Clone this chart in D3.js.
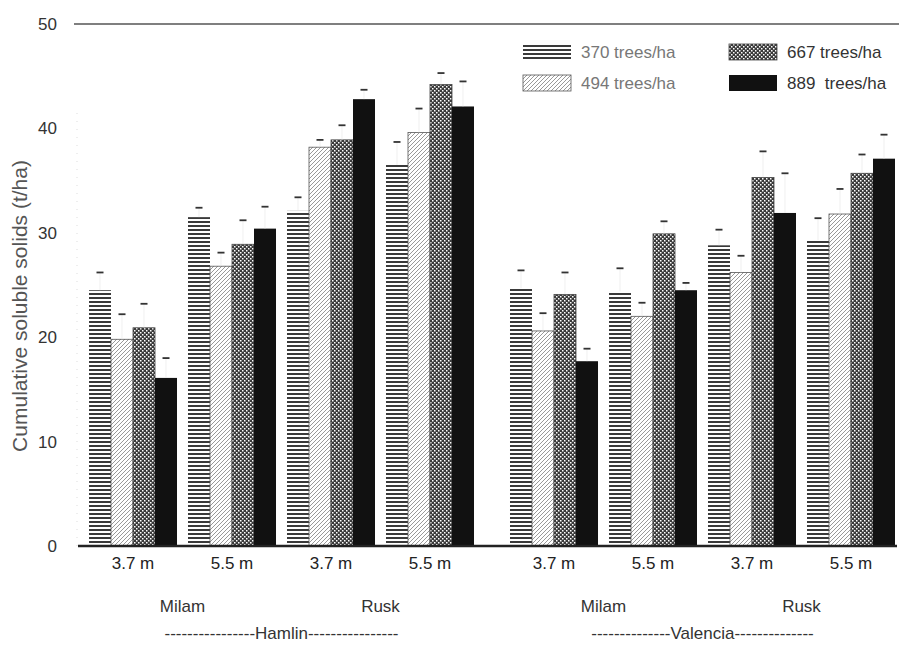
<!DOCTYPE html>
<html>
<head>
<meta charset="utf-8">
<script src="https://cdn.jsdelivr.net/npm/d3@7"></script>
<style>
  body { margin: 0; background: #fff; }
  svg { display: block; font-family: "Liberation Sans", Arial, sans-serif; }
</style>
</head>
<body>
<svg id="chart" width="899" height="645"></svg>
<script>
// categories
var cultivars = ["Hamlin", "Valencia"];
var combos = ["Milam 3.7 m", "Milam 5.5 m", "Rusk 3.7 m", "Rusk 5.5 m"];
var spacingLabels = ["3.7 m", "5.5 m", "3.7 m", "5.5 m"];
var siteLabels = ["Milam", "Rusk"];
var densities = ["370 trees/ha", "494 trees/ha", "667 trees/ha", "889  trees/ha"];
var yTicks = [0, 10, 20, 30, 40, 50];

// bar heights, order: Hamlin (Milam 3.7, Milam 5.5, Rusk 3.7, Rusk 5.5), Valencia (same)
var d370 = [24.5, 31.5, 32.1, 36.5, 24.7, 24.4, 28.8, 29.3];
var d494 = [19.8, 26.8, 38.2, 39.6, 20.6, 22.0, 26.2, 31.8];
var d667 = [20.9, 28.9, 38.9, 44.2, 24.1, 29.9, 35.3, 35.7];
var d889 = [16.1, 30.4, 42.8, 42.1, 17.7, 24.5, 31.9, 37.1];
// top of error bars
var e370 = [26.2, 32.4, 33.4, 38.7, 26.4, 26.6, 30.3, 31.4];
var e494 = [22.2, 28.1, 38.9, 41.9, 22.3, 23.3, 27.8, 34.2];
var e667 = [23.2, 31.2, 40.3, 45.3, 26.2, 31.1, 37.8, 37.5];
var e889 = [18.0, 32.5, 43.7, 44.5, 18.9, 25.2, 35.7, 39.4];

var series = [d370, d494, d667, d889];
var errs = [e370, e494, e667, e889];

var svg = d3.select("#chart");

// patterns
var defs = svg.append("defs");
var p1 = defs.append("pattern").attr("id", "p370").attr("patternUnits", "userSpaceOnUse")
  .attr("width", 6).attr("height", 4);
p1.append("rect").attr("width", 6).attr("height", 4).attr("fill", "#fff");
p1.append("rect").attr("y", 1).attr("width", 6).attr("height", 2).attr("fill", "#3a3a3a");

var p2 = defs.append("pattern").attr("id", "p494").attr("patternUnits", "userSpaceOnUse")
  .attr("width", 4).attr("height", 4);
p2.append("rect").attr("width", 4).attr("height", 4).attr("fill", "#fff");
p2.append("path").attr("d", "M-1,1 l2,-2 M0,4 l4,-4 M3,5 l2,-2")
  .attr("stroke", "#999").attr("stroke-width", 1);

var p3 = defs.append("pattern").attr("id", "p667").attr("patternUnits", "userSpaceOnUse")
  .attr("width", 4).attr("height", 4);
p3.append("rect").attr("width", 4).attr("height", 4).attr("fill", "#3a3a3a");
p3.append("rect").attr("width", 1.5).attr("height", 1.5).attr("fill", "#fff");
p3.append("rect").attr("x", 2).attr("y", 2).attr("width", 1.5).attr("height", 1.5).attr("fill", "#fff");

var fills = ["url(#p370)", "url(#p494)", "url(#p667)", "#111"];
var strokes = ["none", "#555", "#444", "none"];

// scales
var y = d3.scaleLinear().domain([0, 50]).range([546, 24]);
var xOuter = d3.scaleBand().domain(cultivars).range([89, 895]).paddingInner(0.0855);
var xInner = d3.scaleBand().domain(combos).range([0, xOuter.bandwidth()]).paddingInner(0.111);
var xBar = d3.scaleBand().domain(densities).range([0, xInner.bandwidth()]);

var groups = [];
cultivars.forEach(function(c, ci) {
  combos.forEach(function(k, ki) {
    groups.push({ cultivar: c, combo: k, idx: ci * 4 + ki, label: spacingLabels[ki] });
  });
});
function gx(g) { return xOuter(g.cultivar) + xInner(g.combo); }

// top line at 50
svg.append("line").attr("x1", 74).attr("x2", 899).attr("y1", y(50)).attr("y2", y(50))
  .attr("stroke", "#555").attr("stroke-width", 1.5);

// faint y axis
svg.append("line").attr("x1", 77).attr("x2", 77).attr("y1", y(0)).attr("y2", y(42))
  .attr("stroke", "#ddd").attr("stroke-dasharray", "1,7");

// bars
var bars = svg.append("g");
groups.forEach(function(g) {
  densities.forEach(function(d, di) {
    var v = series[di][g.idx];
    var x0 = gx(g) + xBar(d);
    bars.append("rect")
      .attr("x", x0).attr("y", y(v))
      .attr("width", xBar.bandwidth()).attr("height", y(0) - y(v))
      .attr("fill", fills[di])
      .attr("stroke", strokes[di]).attr("stroke-width", 0.8);
    var cx = x0 + xBar.bandwidth() / 2;
    var e = errs[di][g.idx];
    bars.append("line").attr("x1", cx).attr("x2", cx).attr("y1", y(v)).attr("y2", y(e))
      .attr("stroke", "#e6e6e6").attr("stroke-width", 0.6);
    bars.append("line").attr("x1", cx - 3.5).attr("x2", cx + 3.5).attr("y1", y(e)).attr("y2", y(e))
      .attr("stroke", "#333").attr("stroke-width", 1.8);
  });
});

// baseline
svg.append("line").attr("x1", 78).attr("x2", 897).attr("y1", y(0)).attr("y2", y(0))
  .attr("stroke", "#222").attr("stroke-width", 2.5);

// y axis
var yAxis = svg.append("g").attr("transform", "translate(62,0)")
  .call(d3.axisLeft(y).tickValues(yTicks).tickSize(0).tickPadding(5));
yAxis.select(".domain").remove();
yAxis.selectAll("text").attr("font-size", 17).attr("fill", "#333")
  .attr("font-family", "Liberation Sans, Arial, sans-serif");

svg.append("text")
  .attr("transform", "translate(27,306) rotate(-90)")
  .attr("text-anchor", "middle")
  .attr("font-size", 21).attr("fill", "#555")
  .text("Cumulative soluble solids (t/ha)");

// x labels
groups.forEach(function(g) {
  svg.append("text")
    .attr("x", gx(g) + xInner.bandwidth() / 2).attr("y", 569)
    .attr("text-anchor", "middle").attr("font-size", 17).attr("fill", "#222")
    .text(g.label);
});
cultivars.forEach(function(c) {
  [0, 1].forEach(function(si) {
    var a = xOuter(c) + xInner(combos[si * 2]) + xInner.bandwidth() / 2;
    var b = xOuter(c) + xInner(combos[si * 2 + 1]) + xInner.bandwidth() / 2;
    svg.append("text")
      .attr("x", (a + b) / 2).attr("y", 612)
      .attr("text-anchor", "middle").attr("font-size", 17).attr("fill", "#333")
      .text(siteLabels[si]);
  });
  var dash = c === "Hamlin" ? "----------------" : "--------------";
  svg.append("text")
    .attr("x", xOuter(c) + xOuter.bandwidth() / 2).attr("y", 639)
    .attr("text-anchor", "middle").attr("font-size", 17).attr("fill", "#333")
    .text(dash + c + dash);
});

// legend
var legPos = [[523, 44], [523, 75], [729, 44], [729, 75]];
densities.forEach(function(d, di) {
  var lg = svg.append("g").attr("transform", "translate(" + legPos[di][0] + "," + legPos[di][1] + ")");
  lg.append("rect").attr("width", 48).attr("height", 16)
    .attr("fill", fills[di]).attr("stroke", strokes[di]).attr("stroke-width", 0.8);
  lg.append("text").attr("x", 58).attr("y", 14)
    .attr("font-size", 17).attr("fill", di < 2 ? "#777" : "#333")
    .style("white-space", "pre")
    .text(d);
});
</script>
</body>
</html>
